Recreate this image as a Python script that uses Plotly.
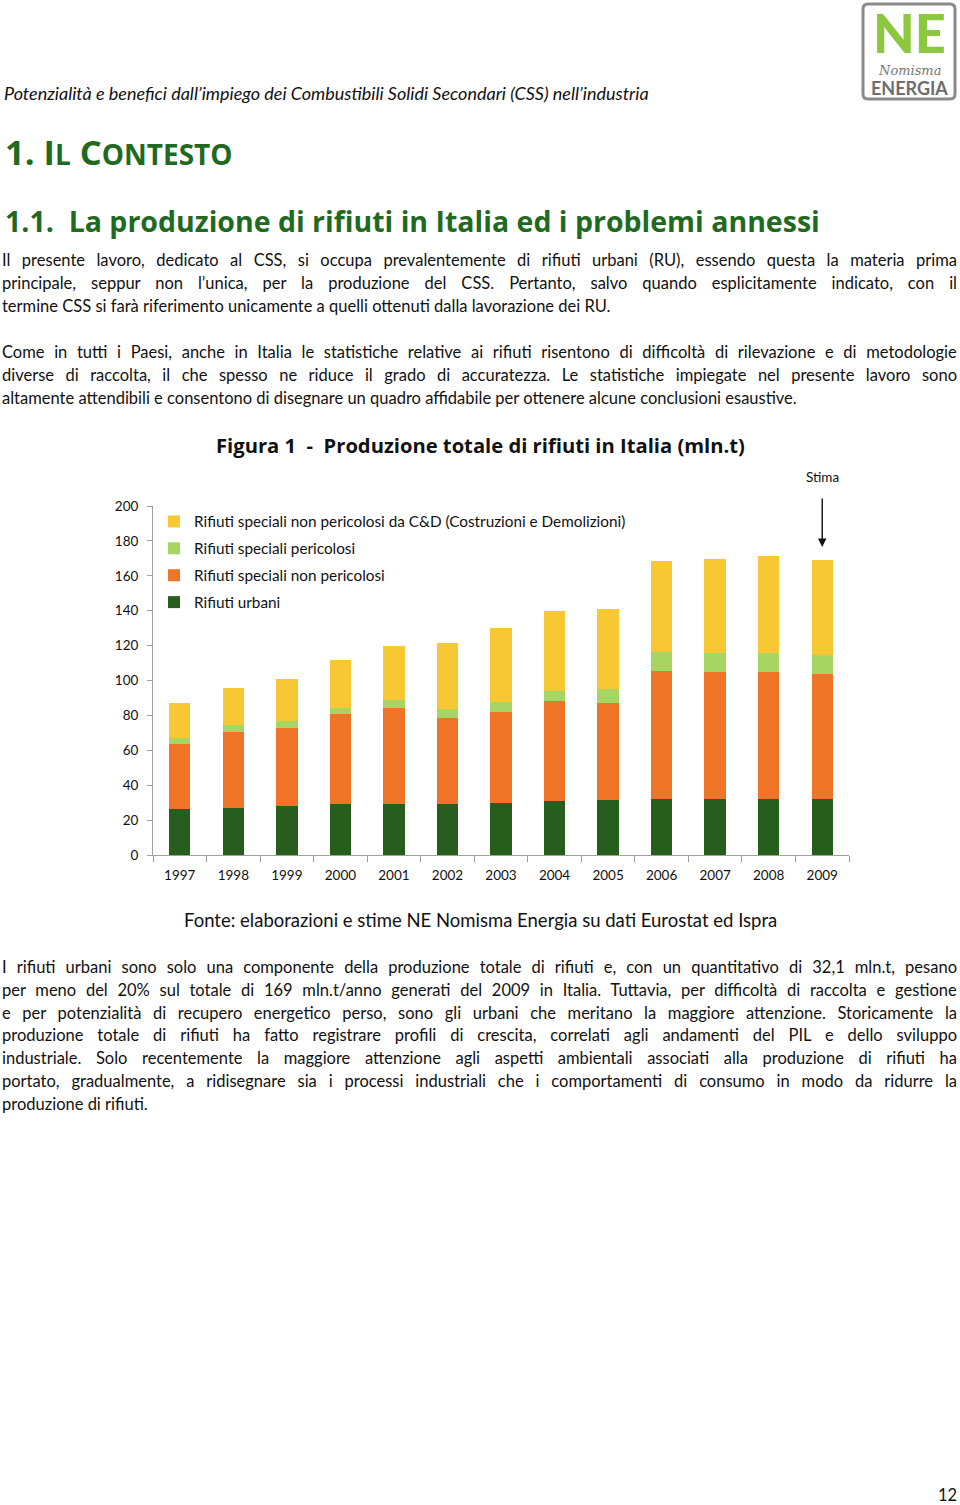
import json
import plotly.graph_objects as go

W, H = 960, 1505

years = ["1997", "1998", "1999", "2000", "2001", "2002", "2003",
         "2004", "2005", "2006", "2007", "2008", "2009"]
urbani = [26.2, 26.7, 28.3, 29.0, 29.0, 29.4, 30.0, 30.9, 31.5, 32.1, 32.1, 32.1, 32.1]
speciali_non_pericolosi = [37.4, 44.0, 44.6, 51.6, 55.4, 49.3, 52.1, 57.5, 55.6, 73.5, 72.6, 72.6, 71.4]
speciali_pericolosi = [3.3, 4.0, 4.1, 3.8, 4.4, 5.1, 5.8, 5.4, 8.2, 10.9, 11.2, 11.2, 10.9]
speciali_cd = [20.4, 21.2, 23.9, 27.3, 31.1, 37.7, 42.4, 46.2, 45.9, 52.0, 53.5, 55.2, 54.6]

series_names = ["Rifiuti urbani", "Rifiuti speciali non pericolosi",
                "Rifiuti speciali pericolosi",
                "Rifiuti speciali non pericolosi da C&D (Costruzioni e Demolizioni)"]
series_values = [urbani, speciali_non_pericolosi, speciali_pericolosi, speciali_cd]
series_colors = ["#285e1d", "#f07428", "#a6d564", "#f8c834"]
legend_ranks = [4, 3, 2, 1]

y_ticks = [0, 20, 40, 60, 80, 100, 120, 140, 160, 180, 200]

FONT = "Lato"
HFONT = "Open Sans"
TXT = "#111111"
GREEN_H = "#1f6a1f"


def px(x):
    return x / W


def py(y):
    return 1 - y / H


fig = go.Figure()
for i, (name, vals, col, rk) in enumerate(zip(series_names, series_values, series_colors, legend_ranks)):
    fig.add_trace(go.Bar(x=years, y=vals, name=name, marker_color=col,
                         marker_line_width=0, width=0.4, legendgroup=f"g{i}",
                         legendrank=rk))

annotations = []


def text(x, y, s, size, anchor="left", color=TXT, family=FONT, weight="normal", style="normal"):
    annotations.append(dict(x=px(x), y=py(y), xref="paper", yref="paper", text=s,
                            showarrow=False, xanchor=anchor, yanchor="middle",
                            align="left" if anchor == "left" else "center",
                            font=dict(size=size, color=color, family=family,
                                      weight=weight, style=style)))


# header
text(2, 93, "Potenzialità e benefici dall’impiego dei Combustibili Solidi Secondari (CSS) nell’industria",
     18, style="italic")
text(3, 152, "1. I<span style='font-size:28px'>L</span> C<span style='font-size:28px'>ONTESTO</span>",
     34.5, color=GREEN_H, family=HFONT, weight="bold")
text(3, 221, "1.1.&nbsp;&nbsp;La produzione di rifiuti in Italia ed i problemi annessi", 28.5,
     color=GREEN_H, family=HFONT, weight="bold")

para1 = [
    "Il presente lavoro, dedicato al CSS, si occupa prevalentemente di rifiuti urbani (RU), essendo questa la materia prima",
    "principale, seppur non l’unica, per la produzione del CSS. Pertanto, salvo quando esplicitamente indicato, con il",
    "termine CSS si farà riferimento unicamente a quelli ottenuti dalla lavorazione dei RU.",
]
para2 = [
    "Come in tutti i Paesi, anche in Italia le statistiche relative ai rifiuti risentono di difficoltà di rilevazione e di metodologie",
    "diverse di raccolta, il che spesso ne riduce il grado di accuratezza. Le statistiche impiegate nel presente lavoro sono",
    "altamente attendibili e consentono di disegnare un quadro affidabile per ottenere alcune conclusioni esaustive.",
]
para3 = [
    "I rifiuti urbani sono solo una componente della produzione totale di rifiuti e, con un quantitativo di 32,1 mln.t, pesano",
    "per meno del 20% sul totale di 169 mln.t/anno generati del 2009 in Italia. Tuttavia, per difficoltà di raccolta e gestione",
    "e per potenzialità di recupero energetico perso, sono gli urbani che meritano la maggiore attenzione. Storicamente la",
    "produzione totale di rifiuti ha fatto registrare profili di crescita, correlati agli andamenti del PIL e dello sviluppo",
    "industriale. Solo recentemente la maggiore attenzione agli aspetti ambientali associati alla produzione di rifiuti ha",
    "portato, gradualmente, a ridisegnare sia i processi industriali che i comportamenti di consumo in modo da ridurre la",
    "produzione di rifiuti.",
]
for i, line in enumerate(para1):
    text(0, 260 + 23 * i, line, 16.5)
for i, line in enumerate(para2):
    text(0, 352 + 23 * i, line, 16.5)
for i, line in enumerate(para3):
    text(0, 967 + 22.8 * i, line, 16.5)

justified = para1[:-1] + para2[:-1] + para3[:-1]

text(480, 445, "Figura 1  -  Produzione totale di rifiuti in Italia (mln.t)", 20.2,
     anchor="center", family=HFONT, weight="bold")
text(480, 920, "Fonte: elaborazioni e stime NE Nomisma Energia su dati Eurostat ed Ispra", 18.5, anchor="center")
text(947, 1495, "12", 16.5, anchor="center")

# "Stima" label with arrow pointing at the 2009 estimate (category index of last year)
annotations.append(dict(x=len(years) - 1, y=176.5, xref="x", yref="y", text="Stima", showarrow=True,
                        ax=0, ay=-70, arrowhead=2, arrowsize=1.2, arrowwidth=1.4,
                        arrowcolor="#111111", standoff=0, startstandoff=12,
                        font=dict(size=13.5, family=FONT, color=TXT)))

# logo
text(909, 33, "NE", 54, anchor="center", color="#8dc63f", weight=900, family="Lato")
text(909, 71, "Nomisma", 13, anchor="center", color="#777777", family="DejaVu Serif", style="italic")
text(909, 88, "ENERGIA", 18, anchor="center", color="#6d6d6d", weight="bold", family="Lato")

shapes = [
    dict(type="path", xref="paper", yref="paper",
         path=(f"M {px(868)},{py(4)} L {px(950)},{py(4)} Q {px(955)},{py(4)} {px(955)},{py(9)} "
               f"L {px(955)},{py(94)} Q {px(955)},{py(99)} {px(950)},{py(99)} "
               f"L {px(868)},{py(99)} Q {px(863)},{py(99)} {px(863)},{py(94)} "
               f"L {px(863)},{py(9)} Q {px(863)},{py(4)} {px(868)},{py(4)} Z"),
         line=dict(color="#8a8a8a", width=3), fillcolor="rgba(0,0,0,0)"),
]

fig.update_layout(
    width=W, height=H, autosize=False,
    margin=dict(l=0, r=0, t=0, b=0, autoexpand=False),
    paper_bgcolor="white", plot_bgcolor="white",
    barmode="stack",
    showlegend=True,
    legend=dict(x=px(154), y=py(505), xanchor="left", yanchor="top",
                traceorder="grouped", tracegroupgap=4,
                font=dict(size=15.3, family=FONT, color=TXT),
                bgcolor="rgba(0,0,0,0)", itemwidth=30),
    xaxis=dict(domain=[px(153), px(849)], range=[-0.5, 12.5], type="category",
               showline=True, linecolor="#a0a0a0", linewidth=1,
               ticks="outside", tickson="boundaries", ticklen=6, tickcolor="#a0a0a0",
               ticklabelstandoff=8,
               tickfont=dict(size=13.5, family=FONT, color=TXT), showgrid=False),
    yaxis=dict(domain=[py(855), py(506)], range=[0, 200], tickvals=y_ticks,
               showline=True, linecolor="#a0a0a0", linewidth=1,
               ticks="outside", ticklen=5, tickcolor="#a0a0a0",
               ticklabelstandoff=6,
               tickfont=dict(size=13.5, family=FONT, color=TXT), showgrid=False,
               zeroline=False),
    annotations=annotations,
    shapes=shapes,
    font=dict(family=FONT),
)

post = """
document.documentElement.style.margin='0';
document.body.style.margin='0';
var JUST = %s;
var RIGHT = 957;
document.querySelectorAll('text.annotation-text').forEach(function(t){
  var s = t.textContent.replace(/\\u00a0/g, ' ');
  if (JUST.indexOf(s) >= 0) {
    var r = t.getBoundingClientRect();
    var n = (s.match(/ /g) || []).length;
    if (n > 0) {
      var extra = (RIGHT - r.right) / n;
      t.style.wordSpacing = extra + 'px';
    }
  }
});
""" % json.dumps(justified)

fig.write_html("out.html", post_script=post, config={"displayModeBar": False})
